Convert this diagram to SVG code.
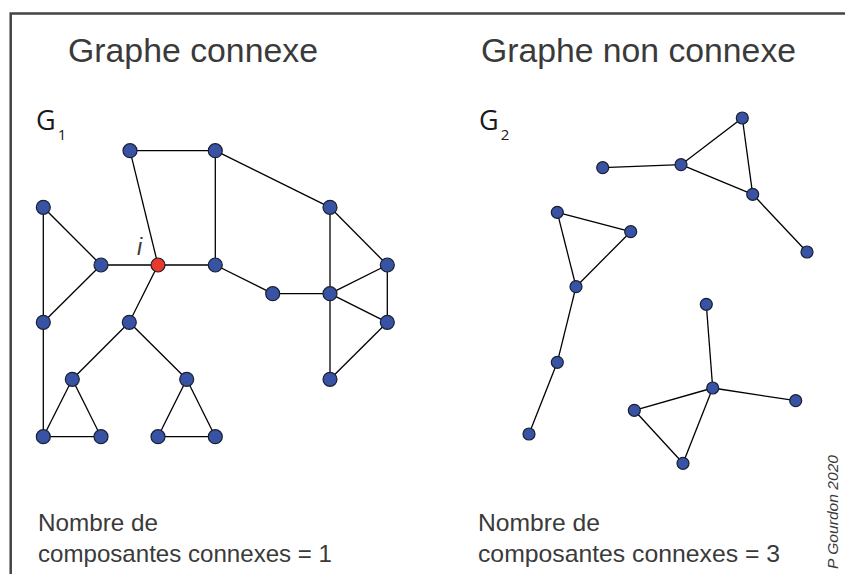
<svg xmlns="http://www.w3.org/2000/svg" width="845" height="574" viewBox="0 0 845 574">
<style>
.e{stroke:#000;stroke-width:1.3;fill:none}
.n{fill:#3953A4;stroke:#1b1f33;stroke-width:1.2}
.r{fill:#E8392B;stroke:#1b1f33;stroke-width:1.2}
.t{font-family:"Liberation Sans",Arial,sans-serif;fill:#3a3a3a}
.g{font-family:"Open Sans","Liberation Sans",sans-serif;fill:#1a1a1a}
</style>
<rect width="845" height="574" fill="#fff"/>
<rect x="10.7" y="13.5" width="900" height="700" fill="none" stroke="#444" stroke-width="2.5"/>
<text class="t" x="68" y="62" font-size="34" textLength="250" lengthAdjust="spacingAndGlyphs">Graphe connexe</text>
<text class="t" x="481" y="62" font-size="34" textLength="315" lengthAdjust="spacingAndGlyphs">Graphe non connexe</text>
<text class="g" x="36" y="130" font-size="27">G<tspan font-size="15" dx="2" dy="10">1</tspan></text>
<text class="g" x="479" y="130" font-size="27">G<tspan font-size="15" dx="2" dy="10">2</tspan></text>
<text class="t" x="137" y="255" font-size="23" font-style="italic" fill="#222">i</text>
<text class="t" x="38" y="531" font-size="24" textLength="120" lengthAdjust="spacingAndGlyphs">Nombre de</text>
<text class="t" x="38" y="562" font-size="24" textLength="294" lengthAdjust="spacingAndGlyphs">composantes connexes = 1</text>
<text class="t" x="478" y="531" font-size="24" textLength="122" lengthAdjust="spacingAndGlyphs">Nombre de</text>
<text class="t" x="478" y="562" font-size="24" textLength="302" lengthAdjust="spacingAndGlyphs">composantes connexes = 3</text>
<text class="t" transform="translate(838,569) rotate(-90)" font-size="15" font-style="italic" fill="#666" textLength="114" lengthAdjust="spacingAndGlyphs">P Gourdon 2020</text>
<g id="connectors">
<line class="e" x1="130" y1="150.7" x2="215.3" y2="150.7"/>
<line class="e" x1="130" y1="150.7" x2="158" y2="265"/>
<line class="e" x1="215.3" y1="150.7" x2="215.3" y2="265"/>
<line class="e" x1="215.3" y1="150.7" x2="330" y2="207.3"/>
<line class="e" x1="43.3" y1="207.3" x2="101" y2="265"/>
<line class="e" x1="43.3" y1="207.3" x2="43.3" y2="322.3"/>
<line class="e" x1="101" y1="265" x2="158" y2="265"/>
<line class="e" x1="101" y1="265" x2="43.3" y2="322.3"/>
<line class="e" x1="158" y1="265" x2="215.3" y2="265"/>
<line class="e" x1="158" y1="265" x2="129.3" y2="322.3"/>
<line class="e" x1="215.3" y1="265" x2="272.7" y2="293.7"/>
<line class="e" x1="272.7" y1="293.7" x2="330" y2="293.7"/>
<line class="e" x1="330" y1="207.3" x2="330" y2="379.3"/>
<line class="e" x1="330" y1="207.3" x2="387.3" y2="265"/>
<line class="e" x1="330" y1="293.7" x2="387.3" y2="265"/>
<line class="e" x1="330" y1="293.7" x2="387.3" y2="322.3"/>
<line class="e" x1="387.3" y1="265" x2="387.3" y2="322.3"/>
<line class="e" x1="387.3" y1="322.3" x2="330" y2="379.3"/>
<line class="e" x1="43.3" y1="322.3" x2="43.3" y2="436.7"/>
<line class="e" x1="129.3" y1="322.3" x2="72.3" y2="379.3"/>
<line class="e" x1="129.3" y1="322.3" x2="186.7" y2="379.3"/>
<line class="e" x1="72.3" y1="379.3" x2="43.3" y2="436.7"/>
<line class="e" x1="72.3" y1="379.3" x2="101" y2="436.7"/>
<line class="e" x1="43.3" y1="436.7" x2="101" y2="436.7"/>
<line class="e" x1="186.7" y1="379.3" x2="158" y2="436.7"/>
<line class="e" x1="186.7" y1="379.3" x2="215.3" y2="436.7"/>
<line class="e" x1="158" y1="436.7" x2="215.3" y2="436.7"/>
<line class="e" x1="602.7" y1="167.7" x2="681" y2="164.7"/>
<line class="e" x1="681" y1="164.7" x2="742.3" y2="118"/>
<line class="e" x1="681" y1="164.7" x2="752.7" y2="194.3"/>
<line class="e" x1="742.3" y1="118" x2="752.7" y2="194.3"/>
<line class="e" x1="752.7" y1="194.3" x2="807" y2="252"/>
<line class="e" x1="557.3" y1="212.3" x2="630.7" y2="231.7"/>
<line class="e" x1="557.3" y1="212.3" x2="576" y2="286.7"/>
<line class="e" x1="630.7" y1="231.7" x2="576" y2="286.7"/>
<line class="e" x1="576" y1="286.7" x2="557.3" y2="362.3"/>
<line class="e" x1="557.3" y1="362.3" x2="529" y2="434"/>
<line class="e" x1="706.3" y1="304.3" x2="712.7" y2="388"/>
<line class="e" x1="712.7" y1="388" x2="795.7" y2="400.7"/>
<line class="e" x1="712.7" y1="388" x2="634.3" y2="410.3"/>
<line class="e" x1="712.7" y1="388" x2="683" y2="463.3"/>
<line class="e" x1="634.3" y1="410.3" x2="683" y2="463.3"/>
</g>
<g id="nodes-g1">
<circle id="n1" class="n" cx="130" cy="150.7" r="7"/>
<circle id="n2" class="n" cx="215.3" cy="150.7" r="7"/>
<circle id="n3" class="n" cx="43.3" cy="207.3" r="7"/>
<circle id="n4" class="n" cx="330" cy="207.3" r="7"/>
<circle id="n5" class="n" cx="101" cy="265" r="7"/>
<circle id="ni" class="r" cx="158" cy="265" r="7"/>
<circle id="n6" class="n" cx="215.3" cy="265" r="7"/>
<circle id="n7" class="n" cx="387.3" cy="265" r="7"/>
<circle id="n8" class="n" cx="272.7" cy="293.7" r="7"/>
<circle id="n9" class="n" cx="330" cy="293.7" r="7"/>
<circle id="n10" class="n" cx="43.3" cy="322.3" r="7"/>
<circle id="n11" class="n" cx="129.3" cy="322.3" r="7"/>
<circle id="n12" class="n" cx="387.3" cy="322.3" r="7"/>
<circle id="n13" class="n" cx="72.3" cy="379.3" r="7"/>
<circle id="n14" class="n" cx="186.7" cy="379.3" r="7"/>
<circle id="n15" class="n" cx="330" cy="379.3" r="7"/>
<circle id="n16" class="n" cx="43.3" cy="436.7" r="7"/>
<circle id="n17" class="n" cx="101" cy="436.7" r="7"/>
<circle id="n18" class="n" cx="158" cy="436.7" r="7"/>
<circle id="n19" class="n" cx="215.3" cy="436.7" r="7"/>
</g>
<g id="nodes-g2">
<circle id="m1" class="n" cx="602.7" cy="167.7" r="6"/>
<circle id="m2" class="n" cx="681" cy="164.7" r="6"/>
<circle id="m3" class="n" cx="742.3" cy="118" r="6"/>
<circle id="m4" class="n" cx="752.7" cy="194.3" r="6"/>
<circle id="m5" class="n" cx="807" cy="252" r="6"/>
<circle id="m6" class="n" cx="557.3" cy="212.3" r="6"/>
<circle id="m7" class="n" cx="630.7" cy="231.7" r="6"/>
<circle id="m8" class="n" cx="576" cy="286.7" r="6"/>
<circle id="m9" class="n" cx="557.3" cy="362.3" r="6"/>
<circle id="m10" class="n" cx="529" cy="434" r="6"/>
<circle id="m11" class="n" cx="706.3" cy="304.3" r="6"/>
<circle id="m12" class="n" cx="712.7" cy="388" r="6"/>
<circle id="m13" class="n" cx="795.7" cy="400.7" r="6"/>
<circle id="m14" class="n" cx="634.3" cy="410.3" r="6"/>
<circle id="m15" class="n" cx="683" cy="463.3" r="6"/>
</g>
</svg>
